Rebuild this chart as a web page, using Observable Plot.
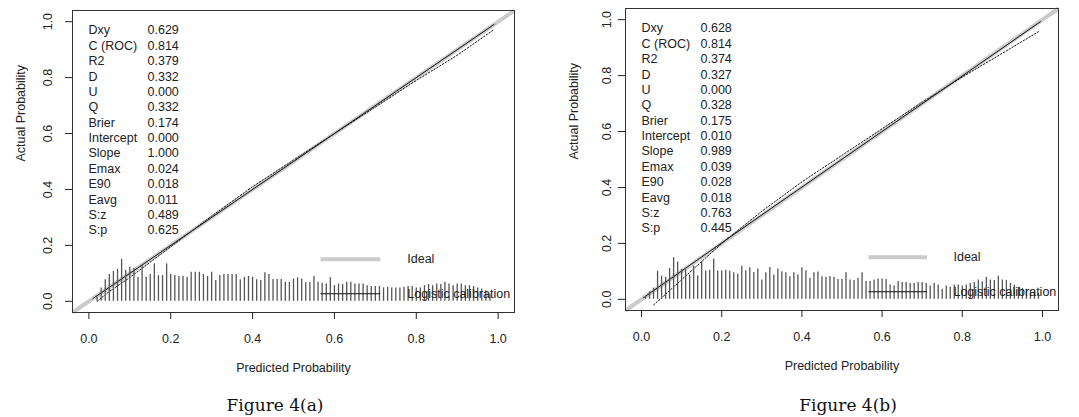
<!DOCTYPE html>
<html><head><meta charset="utf-8">
<script src="https://cdn.jsdelivr.net/npm/d3@7"></script>
<script src="https://cdn.jsdelivr.net/npm/@observablehq/plot@0.6"></script>
<style>
body{margin:0;background:#fff;width:1079px;height:417px;position:relative;overflow:hidden}
.panel{position:absolute;top:0}
.cap{position:absolute;top:393px;width:200px;line-height:24px;text-align:center;font-family:"DejaVu Serif",serif;font-size:17px;color:#111}
</style></head><body>
<div id="a" class="panel" style="left:0"></div>
<div id="b" class="panel" style="left:540px"></div>
<div class="cap" style="left:175px">Figure 4(a)</div>
<div class="cap" style="left:748px">Figure 4(b)</div>
<script>
// ---- data ----
const statNames = ["Dxy","C (ROC)","R2","D","U","Q","Brier","Intercept","Slope","Emax","E90","Eavg","S:z","S:p"];
const statsA = ["0.629","0.814","0.379","0.332","0.000","0.332","0.174","0.000","1.000","0.024","0.018","0.011","0.489","0.625"];
const statsB = ["0.628","0.814","0.374","0.327","0.000","0.328","0.175","0.010","0.989","0.039","0.028","0.018","0.763","0.445"];
const axisTicks = [0, 0.2, 0.4, 0.6, 0.8, 1.0];
const legendLabels = ["Ideal", "Logistic calibration"];

// risk distribution spikes, panel (a)
const riskXA = [0.02,0.03,0.04,0.05,0.06,0.07,0.08,0.09,0.10,0.11,0.12,0.13,0.14,0.15,0.16,0.17,0.18,0.19,0.20,0.21,0.22,0.23,0.24,0.25,0.26,0.27,0.28,0.29,0.30,0.31,0.32,0.33,0.34,0.35,0.36,0.37,0.38,0.39,0.40,0.41,0.42,0.43,0.44,0.45,0.46,0.47,0.48,0.49,0.50,0.51,0.52,0.53,0.54,0.55,0.56,0.57,0.58,0.59,0.60,0.61,0.62,0.63,0.64,0.65,0.66,0.67,0.68,0.69,0.70,0.71,0.72,0.73,0.74,0.75,0.76,0.77,0.78,0.79,0.80,0.81,0.82,0.83,0.84,0.85,0.86,0.87,0.88,0.89,0.90,0.91,0.92,0.93,0.94,0.95,0.96,0.97,0.98];
const riskHA = [0.015,0.048,0.077,0.096,0.107,0.114,0.150,0.110,0.122,0.118,0.086,0.128,0.086,0.096,0.134,0.092,0.092,0.134,0.096,0.092,0.089,0.089,0.086,0.104,0.104,0.104,0.096,0.089,0.104,0.074,0.092,0.096,0.096,0.096,0.096,0.077,0.086,0.089,0.086,0.077,0.074,0.102,0.096,0.078,0.078,0.078,0.068,0.068,0.080,0.084,0.080,0.066,0.068,0.089,0.068,0.065,0.062,0.084,0.056,0.062,0.060,0.068,0.068,0.062,0.062,0.062,0.056,0.053,0.053,0.053,0.048,0.050,0.048,0.048,0.048,0.050,0.053,0.053,0.048,0.048,0.056,0.060,0.056,0.062,0.060,0.068,0.062,0.056,0.062,0.062,0.056,0.056,0.053,0.048,0.044,0.038,0.026];

// risk distribution spikes, panel (b)
const riskXB = [0.01,0.02,0.03,0.04,0.05,0.06,0.07,0.08,0.09,0.10,0.11,0.12,0.13,0.14,0.15,0.16,0.17,0.18,0.19,0.20,0.21,0.22,0.23,0.24,0.25,0.26,0.27,0.28,0.29,0.30,0.31,0.32,0.33,0.34,0.35,0.36,0.37,0.38,0.39,0.40,0.41,0.42,0.43,0.44,0.45,0.46,0.47,0.48,0.49,0.50,0.51,0.52,0.53,0.54,0.55,0.56,0.57,0.58,0.59,0.60,0.61,0.62,0.63,0.64,0.65,0.66,0.67,0.68,0.69,0.70,0.71,0.72,0.73,0.74,0.75,0.76,0.77,0.78,0.79,0.80,0.81,0.82,0.83,0.84,0.85,0.86,0.87,0.88,0.89,0.90,0.91,0.92,0.93,0.94,0.95,0.96,0.97,0.98,0.99];
const riskHB = [0.010,0.027,0.040,0.100,0.083,0.079,0.110,0.149,0.133,0.107,0.105,0.087,0.119,0.083,0.135,0.101,0.104,0.144,0.101,0.101,0.104,0.100,0.095,0.090,0.118,0.102,0.113,0.096,0.108,0.069,0.095,0.114,0.087,0.108,0.099,0.095,0.081,0.095,0.087,0.113,0.102,0.075,0.095,0.098,0.081,0.079,0.082,0.079,0.071,0.071,0.095,0.069,0.067,0.075,0.095,0.064,0.064,0.069,0.073,0.073,0.071,0.051,0.048,0.064,0.060,0.060,0.057,0.057,0.060,0.060,0.057,0.048,0.057,0.051,0.036,0.048,0.043,0.051,0.051,0.048,0.051,0.057,0.060,0.069,0.063,0.079,0.069,0.067,0.083,0.069,0.067,0.057,0.051,0.043,0.039,0.036,0.033,0.027,0.021];

// logistic calibration curves
const logisticXA = [0.01, 0.25, 0.5, 0.75, 0.99];
const logisticYA = [0.01, 0.25, 0.5, 0.75, 0.99];
const logisticXB = [0.005, 0.25, 0.5, 0.75, 0.995];
const logisticYB = [0.006, 0.252, 0.501, 0.749, 0.993];

// nonparametric curves
const nonparXA = [0.02, 0.05, 0.10, 0.15, 0.20, 0.30, 0.40, 0.50, 0.60, 0.70, 0.80, 0.90, 0.99];
const nonparYA = [0.000, 0.035, 0.085, 0.140, 0.195, 0.305, 0.410, 0.505, 0.600, 0.695, 0.790, 0.880, 0.972];
const nonparXB = [0.03, 0.05, 0.10, 0.15, 0.20, 0.30, 0.40, 0.50, 0.60, 0.70, 0.80, 0.90, 0.99];
const nonparYB = [-0.020, 0.005, 0.070, 0.135, 0.200, 0.315, 0.420, 0.515, 0.610, 0.705, 0.795, 0.880, 0.957];

// ---- drawing ----
const lim = [-0.04, 1.04];
const zip = (xs, ys) => xs.map((x, i) => ({x, y: ys[i]}));
const fmt = d3.format(".1f");

function panel({width, marginLeft, marginRight, marginTop, marginBottom, stats, riskX, riskH, logX, logY, npX, npY, tickLabelDx}) {
  const risk = riskX.map((x, i) => ({x, h: riskH[i]}));
  const legLine = [0.566, 0.712], legText = 0.778, legY = [0.15, 0.027];
  return Plot.plot({
    width, height: 385, marginLeft, marginRight, marginTop, marginBottom,
    x: {domain: lim, axis: null},
    y: {domain: lim, axis: null},
    style: {fontFamily: "'Liberation Sans', Arial, sans-serif", fontSize: "12.5px", color: "#222", background: "white", overflow: "visible"},
    marks: [
      Plot.link([lim], {x1: d => d[0], y1: d => d[0], x2: d => d[1], y2: d => d[1], stroke: "#cbcbcb", strokeWidth: 4}),
      Plot.line(zip(logX, logY), {x: "x", y: "y", stroke: "#111", strokeWidth: 1}),
      Plot.line(zip(npX, npY), {x: "x", y: "y", stroke: "#111", strokeWidth: 1, strokeDasharray: "1.5,1.8"}),
      Plot.ruleX(risk, {x: "x", y1: 0, y2: "h", stroke: "#555", strokeWidth: 1.3}),
      Plot.link([legLine], {x1: d => d[0], x2: d => d[1], y1: legY[0], y2: legY[0], stroke: "#cbcbcb", strokeWidth: 4}),
      Plot.link([legLine], {x1: d => d[0], x2: d => d[1], y1: legY[1], y2: legY[1], stroke: "#111", strokeWidth: 1}),
      Plot.text(legendLabels, {x: () => legText, y: (d, i) => legY[i], text: d => d, textAnchor: "start", fill: "#222"}),
      Plot.text([statNames.join("\n")], {frameAnchor: "top-left", dx: 16, dy: 13, lineAnchor: "top", lineHeight: 1.23, textAnchor: "start", fill: "#222"}),
      Plot.text([stats.join("\n")], {frameAnchor: "top-left", dx: 75, dy: 13, lineAnchor: "top", lineHeight: 1.23, textAnchor: "start", fill: "#222"}),
      Plot.frame({stroke: "#333", strokeWidth: 1}),
      Plot.axisX({anchor: "bottom", ticks: axisTicks, tickFormat: fmt, tickSize: 7, tickPadding: 15, label: null}),
      Plot.axisY({anchor: "left", ticks: axisTicks, tickFormat: () => "", tickSize: 7, label: null}),
      Plot.text(axisTicks, {y: d => d, text: d => fmt(d), frameAnchor: "left", dx: tickLabelDx, rotate: -90, textAnchor: "middle", lineAnchor: "middle", fill: "#222"}),
      Plot.text(["Predicted Probability"], {frameAnchor: "bottom", dy: 59, fill: "#222"}),
      Plot.text(["Actual Probability"], {frameAnchor: "left", dx: -52, rotate: -90, fill: "#222"})
    ]
  });
}

document.getElementById("a").append(panel({
  width: 540, marginLeft: 72, marginRight: 26, marginTop: 10, marginBottom: 73,
  stats: statsA, riskX: riskXA, riskH: riskHA, logX: logisticXA, logY: logisticYA, npX: nonparXA, npY: nonparYA, tickLabelDx: -25
}));
document.getElementById("b").append(panel({
  width: 539, marginLeft: 85, marginRight: 21, marginTop: 8, marginBottom: 75,
  stats: statsB, riskX: riskXB, riskH: riskHB, logX: logisticXB, logY: logisticYB, npX: nonparXB, npY: nonparYB, tickLabelDx: -19
}));
</script>
</body></html>
